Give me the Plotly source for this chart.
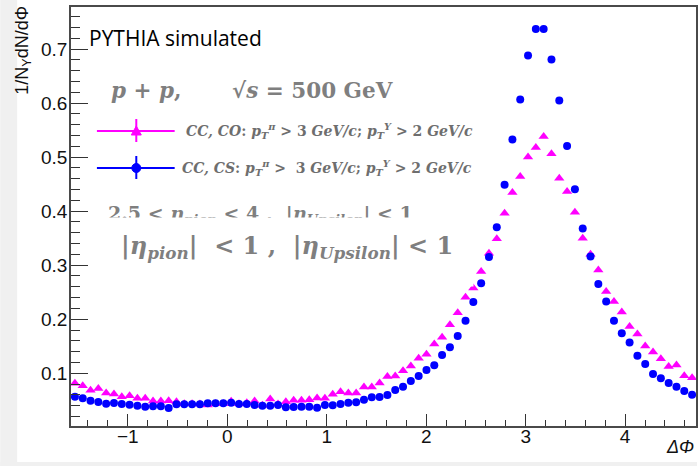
import numpy as np
import plotly.graph_objects as go

# ---------------- data (80 bins in delta-phi from -pi/2 to 3pi/2) ----------------
n_bins = 80
bin_edges = np.linspace(-np.pi / 2, 3 * np.pi / 2, n_bins + 1)
dphi = 0.5 * (bin_edges[:-1] + bin_edges[1:])

cc_co = [0.0815, 0.077, 0.0685, 0.072, 0.0635, 0.0617, 0.0567, 0.0585, 0.0537, 0.0537,
         0.0487, 0.0487, 0.049, 0.0474, 0.0437, 0.0437, 0.043, 0.0413, 0.0437, 0.0437,
         0.048, 0.0437, 0.0456, 0.0487, 0.041, 0.0524, 0.0431, 0.0474, 0.050, 0.050,
         0.0512, 0.0543, 0.0537, 0.0611, 0.066, 0.0635, 0.0635, 0.0746, 0.0746, 0.082,
         0.0938, 0.095, 0.1048, 0.1135, 0.1278, 0.1352, 0.1543, 0.1667, 0.190, 0.2122,
         0.2407, 0.258, 0.2882, 0.3222, 0.3487, 0.3963, 0.4345, 0.4641, 0.500, 0.5178,
         0.5382, 0.5061, 0.461, 0.4364, 0.398, 0.350, 0.3203, 0.2913, 0.2512, 0.2326,
         0.2135, 0.1864, 0.1728, 0.1506, 0.1395, 0.127, 0.1123, 0.1154, 0.0956, 0.0919]

cc_cs = [0.0567, 0.0537, 0.0493, 0.0469, 0.0437, 0.045, 0.0431, 0.0419, 0.040, 0.0382,
         0.0388, 0.0388, 0.0357, 0.0426, 0.0426, 0.0426, 0.0426, 0.0444, 0.0444, 0.0444,
         0.0456, 0.0431, 0.0431, 0.0413, 0.040, 0.040, 0.0413, 0.037, 0.0376, 0.0382,
         0.0382, 0.0364, 0.0413, 0.0407, 0.0431, 0.0456, 0.0462, 0.0512, 0.0555, 0.056,
         0.0598, 0.069, 0.0752, 0.0857, 0.095, 0.1061, 0.1148, 0.1339, 0.1481, 0.1691,
         0.1974, 0.232, 0.2667, 0.315, 0.370, 0.4487, 0.5326, 0.6067, 0.688, 0.737,
         0.737, 0.6807, 0.6048, 0.5204, 0.4407, 0.3678, 0.316, 0.2651, 0.2326, 0.1974,
         0.174, 0.1567, 0.1326, 0.1172, 0.0987, 0.0907, 0.082, 0.0752, 0.0672, 0.0604]

x_ticks = [-1, 0, 1, 2, 3, 4]
y_ticks = [0.1, 0.2, 0.3, 0.4, 0.5, 0.6, 0.7]

# ---------------- layout geometry ----------------
W, H = 699, 466
L, R, T, B = 71, 1, 7, 40
PW, PH = W - L - R, H - T - B


def px(x):
    return (x - L) / PW


def py(y):
    return (H - B - y) / PH


PINK = "#ff00ff"
BLUE = "#0000ff"
GRAY = "#7f7f7f"
LGRAY = "#6e6e6e"

fig = go.Figure()
fig.add_trace(go.Scatter(x=dphi, y=cc_co, mode="markers", name="CC,CO",
                         marker=dict(symbol="triangle-up", size=9, color=PINK)))
fig.add_trace(go.Scatter(x=dphi, y=cc_cs, mode="markers", name="CC,CS",
                         marker=dict(symbol="circle", size=8, color=BLUE)))

axis_common = dict(showline=True, linecolor="#4a4a4a", linewidth=1.5, mirror=True,
                   showgrid=False, zeroline=False, ticks="inside", tickcolor="#333",
                   tickfont=dict(family="Liberation Sans, Arial", size=19, color="#111"))

fig.update_xaxes(range=[-np.pi / 2, 3 * np.pi / 2], tickvals=x_ticks, ticklen=12,
                 ticklabelstandoff=-8,
                 minor=dict(ticks="inside", ticklen=6, dtick=0.2, tick0=0, tickcolor="#333"),
                 **axis_common)
fig.update_yaxes(range=[0.0024, 0.7778], tickvals=y_ticks, ticklen=17,
                 ticklabelstandoff=-2,
                 minor=dict(ticks="inside", ticklen=9, dtick=0.02, tick0=0, tickcolor="#333"),
                 **axis_common)

shapes = []
# grey window strips
shapes.append(dict(type="rect", xref="paper", yref="paper", x0=px(0), x1=px(17), y0=py(0), y1=py(H),
                   fillcolor="#f0f0f0", line_width=0, layer="below"))
shapes.append(dict(type="rect", xref="paper", yref="paper", x0=px(0), x1=px(W), y0=py(462), y1=py(H),
                   fillcolor="#f0f0f0", line_width=0, layer="below"))
# legend glyphs
for yy, col in [(131, PINK), (168, BLUE)]:
    shapes.append(dict(type="line", xref="paper", yref="paper", x0=px(97), x1=px(175), y0=py(yy), y1=py(yy),
                       line=dict(color=col, width=2)))
    shapes.append(dict(type="line", xref="paper", yref="paper", x0=px(136.5), x1=px(136.5),
                       y0=py(yy - 12), y1=py(yy + 11), line=dict(color=col, width=2)))
shapes.append(dict(type="path", xref="paper", yref="paper", xsizemode="pixel", ysizemode="pixel",
                   xanchor=px(136.5), yanchor=py(131), path="M -5,-4 L 5,-4 L 0,5 Z",
                   fillcolor=PINK, line=dict(color=PINK, width=1)))
shapes.append(dict(type="circle", xref="paper", yref="paper", xsizemode="pixel", ysizemode="pixel",
                   xanchor=px(136.5), yanchor=py(168), x0=-4.5, x1=4.5, y0=-4.5, y1=4.5,
                   fillcolor=BLUE, line=dict(color=BLUE, width=1)))

annotations = []


def ann(text, x, y, size, color, family, xanchor="left", yanchor="middle", **kw):
    annotations.append(dict(text=text, x=px(x), y=py(y), xref="paper", yref="paper",
                            xanchor=xanchor, yanchor=yanchor, showarrow=False,
                            font=dict(size=size, color=color, family=family), **kw))


SERIF = "DejaVu Serif, Liberation Serif, serif"
ann("PYTHIA simulated", 87, 38, 21, "#000", "Open Sans, Noto Sans")
ann("<b><i>p</i> + <i>p</i>,</b>", 109, 90, 21.5, GRAY, SERIF)
ann("<b>√<i>s</i> = 500 GeV</b>", 231, 90, 21.5, GRAY, SERIF)
ann("<b><i>CC, CO</i>: <i>p</i><sub><i>T</i></sub><sup><i>π</i></sup> > 3 <i>GeV/c</i>; "
    "<i>p</i><sub><i>T</i></sub><sup><i>Υ</i></sup> > 2 <i>GeV/c</i></b>", 184, 131, 14, LGRAY, SERIF)
ann("<b><i>CC, CS</i>: <i>p</i><sub><i>T</i></sub><sup><i>π</i></sup> >  3 <i>GeV/c</i>; "
    "<i>p</i><sub><i>T</i></sub><sup><i>Υ</i></sup> > 2 <i>GeV/c</i></b>", 180, 168, 14, LGRAY, SERIF)
# partially covered text line
ann("<b>2.5 < <i>η</i><sub><i>pion</i></sub> < 4 ,  |<i>η</i><sub><i>Upsilon</i></sub>| < 1</b>",
    106, 214, 19, GRAY, SERIF)
# white box covering the lower half of that line
annotations.append(dict(text=" ", x=px(90), y=py(217), xref="paper", yref="paper", xanchor="left",
                        yanchor="top", showarrow=False, width=380, height=66, bgcolor="white",
                        font=dict(size=10)))
ann("<b>|<i>η</i><sub><i>pion</i></sub>|  < 1 ,  |<i>η</i><sub><i>Upsilon</i></sub>| < 1</b>",
    119, 247, 24, GRAY, SERIF)
# axis titles
ann("1/N<sub>Υ</sub>dN/dΦ", 23, 4, 18, "#111", "Liberation Sans, Arial", xanchor="center",
    yanchor="top", textangle=-90)
ann("<i>ΔΦ</i>", 698, 447, 18, "#111", "Liberation Sans, Arial", xanchor="right")

fig.update_layout(
    width=W, height=H, autosize=False,
    margin=dict(l=L, r=R, t=T, b=B, pad=0),
    paper_bgcolor="white", plot_bgcolor="white",
    showlegend=False,
    shapes=shapes,
    annotations=annotations,
)

fig.write_html("out.html", config={"displayModeBar": False},
               post_script="document.body.style.margin='0px';")
